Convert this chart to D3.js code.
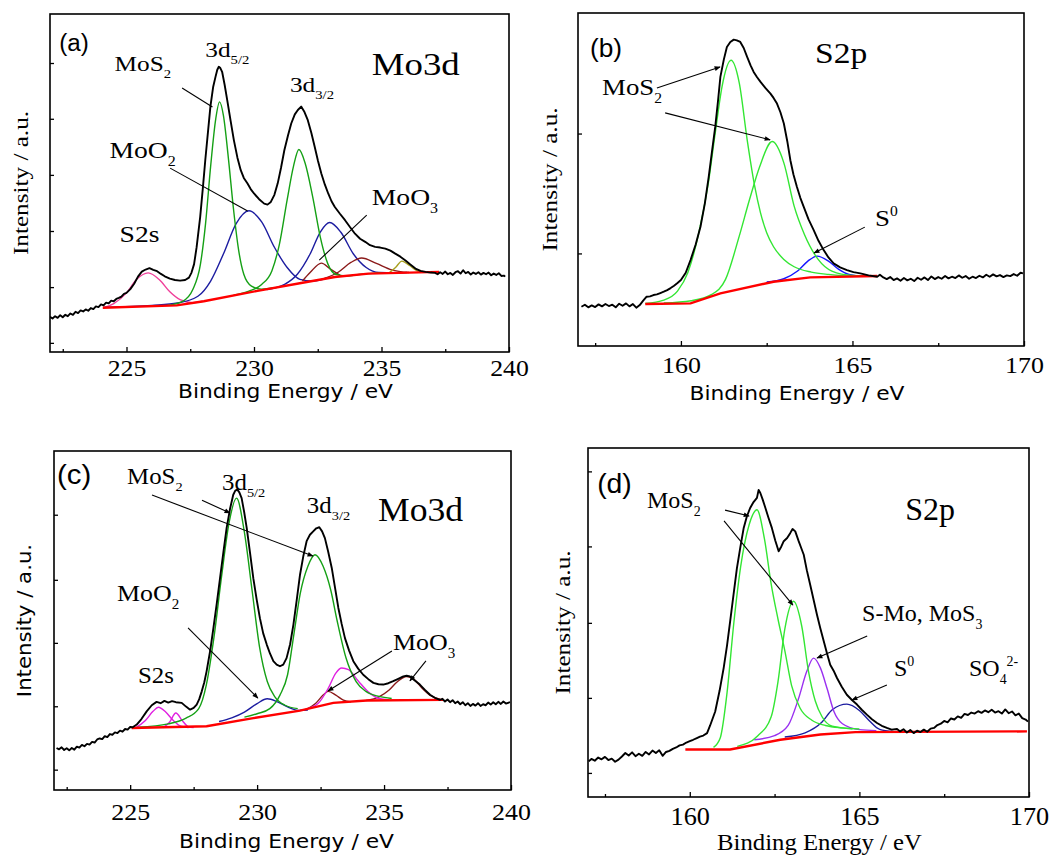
<!DOCTYPE html>
<html><head><meta charset="utf-8">
<script src="https://cdn.jsdelivr.net/npm/d3@7"></script>
<style>body{margin:0;background:#fff;}svg{display:block;}</style>
</head><body>
<svg id="c" width="1054" height="856"></svg>
<script>
// ---------------- DATA (binding energy eV, intensity a.u. 0-100) ----------------
const moTicks = [225, 230, 235, 240];
const moMinor = [222.5, 227.5, 232.5, 237.5];
const sTicks = [160, 165, 170];
const sMinor = [157.5, 162.5, 167.5];
const yTicksA = [2.7, 19.2, 35.8, 52.4, 69.0, 85.5];
const yTicksB = [27.8, 63.8];
const yTicksC = [6.0, 24.7, 43.4, 62.0, 81.2];
const yTicksD = [6.9, 28.4, 49.9, 71.8, 93.3];

// (a) Mo3d
const rawA = [[222.0,10.4],[222.1,9.9],[222.2,10.6],[222.3,10.1],[222.4,10.9],[222.5,10.3],[222.6,11.0],[222.7,10.6],[222.8,11.4],[222.9,11.0],[223.0,11.9],[223.1,11.5],[223.2,12.3],[223.3,12.0],[223.4,12.6],[223.5,12.2],[223.6,13.0],[223.7,12.7],[223.8,13.5],[223.9,13.3],[224.0,14.1],[224.1,13.8],[224.2,14.6],[224.3,14.4],[224.4,15.2],[224.5,15.0],[224.6,15.7],[224.7,16.0],[224.8,16.4],[224.9,17.2],[225.0,17.5],[225.15,18.6],[225.3,20.2],[225.45,22.3],[225.6,23.8],[225.75,24.4],[225.9,24.8],[226.05,24.3],[226.2,23.9],[226.35,23.1],[226.5,22.4],[226.7,21.7],[226.9,21.3],[227.1,21.1],[227.3,21.3],[227.45,22.0],[227.55,23.5],[227.65,26.0],[227.75,31.0],[227.89,40.0],[228.0,49],[228.09,56.8],[228.2,65.5],[228.29,72.6],[228.4,78.5],[228.49,81.4],[228.56,83.5],[228.62,84.4],[228.68,84.0],[228.75,82.9],[228.85,79.0],[228.95,74.5],[229.08,68.5],[229.21,62.7],[229.35,57.5],[229.48,53.8],[229.6,51.5],[229.74,49.9],[229.87,48.2],[230.0,46.9],[230.2,45.2],[230.4,43.9],[230.53,43.6],[230.66,44.4],[230.8,46.5],[230.93,49.9],[231.06,54.5],[231.19,59.7],[231.33,64.0],[231.46,67.6],[231.6,70.3],[231.72,71.6],[231.85,72.6],[231.98,71.0],[232.11,68.6],[232.25,64.8],[232.38,60.7],[232.51,56.5],[232.64,52.8],[232.78,49.5],[232.91,46.9],[233.04,44.6],[233.17,42.9],[233.37,40.9],[233.57,39.0],[233.77,36.9],[233.96,35.0],[234.16,33.5],[234.36,32.6],[234.55,31.6],[234.75,31.1],[234.95,30.9],[235.15,30.6],[235.35,30.0],[235.54,29.1],[235.74,28.2],[235.94,27.1],[236.13,25.9],[236.33,24.7],[236.53,24.0],[236.73,23.7],[236.93,23.5],[237.1,23.4],[237.2,23.0],[237.3,23.6],[237.4,23.1],[237.5,23.8],[237.6,23.0],[237.7,23.4],[237.8,22.8],[237.9,23.6],[238.0,23.9],[238.1,23.2],[238.2,24.2],[238.3,23.3],[238.4,23.7],[238.5,22.9],[238.6,23.5],[238.7,23.1],[238.8,23.6],[238.9,22.9],[239.0,23.4],[239.1,23.0],[239.2,23.5],[239.3,22.7],[239.4,23.2],[239.5,22.8],[239.6,23.3],[239.7,22.5],[239.8,22.6],[239.85,22.3]];
const baseA = [[224.07,13.1],[226.97,13.8],[228.03,15.0],[230.14,18.1],[231.85,20.4],[233.17,22.2],[234.49,23.2],[237.26,23.7]];
const s2sA = [[224.1,13.1],[224.5,14.3],[225.0,17.5],[225.4,21.5],[225.85,23.4],[226.3,21.3],[226.7,17.8],[227.1,15.5],[227.6,14.6],[228.0,15.0]];
const mos2d52A = [[226.6,13.8],[227.2,15.0],[227.6,18.5],[227.9,26],[228.1,38],[228.3,55],[228.5,69],[228.65,74],[228.8,70],[229.0,57],[229.2,42],[229.4,30],[229.6,23],[229.9,19.5],[230.3,18.6],[230.8,19.0]];
const mos2d32A = [[229.2,16.8],[229.8,18.0],[230.3,20.0],[230.7,24],[231.0,32],[231.3,45],[231.55,55],[231.76,59.9],[232.0,56],[232.3,46],[232.6,34],[232.9,26],[233.2,23],[233.6,22.5],[234.2,23],[235.0,23.5]];
const moo2d52A = [[224.1,13.2],[226.0,13.8],[227.0,14.5],[227.8,16.5],[228.3,21],[228.8,29],[229.3,38],[229.8,41.8],[230.3,38.5],[230.8,31],[231.3,25],[231.8,21.5],[232.3,21],[233.0,22.2]];
const moo2d32A = [[230.5,18.5],[231.2,20],[231.7,23],[232.2,29],[232.6,35.5],[232.97,38.3],[233.4,35.5],[233.9,29],[234.4,25],[234.9,23.5],[235.5,23.4],[236.0,23.5]];
const moo3aA = [[231.9,21.0],[232.2,23.5],[232.64,26.3],[233.0,24.5],[233.43,22.4]];
const moo3bA = [[232.76,21.8],[233.3,23.6],[233.8,26.5],[234.22,27.8],[234.8,26.2],[235.4,24.3],[236.08,23.5]];
const oliveA = [[235.3,23.4],[235.55,25.0],[235.8,26.9],[236.1,25.6],[236.4,24.0],[236.7,23.6]];

// (b) S2p
const rawB = [[157.1,11.8],[157.2,12.4],[157.3,11.6],[157.4,12.2],[157.5,11.7],[157.6,12.5],[157.7,11.9],[157.8,12.6],[157.9,12.0],[158.0,12.4],[158.1,11.6],[158.2,12.7],[158.3,12.1],[158.4,12.8],[158.5,11.9],[158.6,12.6],[158.7,11.5],[158.8,12.3],[158.9,13.6],[159.0,14.8],[159.1,14.9],[159.2,15.3],[159.3,15.5],[159.4,15.9],[159.5,16.3],[159.6,16.8],[159.7,17.4],[159.8,18.1],[159.9,18.9],[160.0,19.8],[160.14,22.0],[160.28,25.8],[160.43,30.5],[160.57,35.8],[160.7,43],[160.81,50.8],[160.9,58],[161.0,65.8],[161.08,73.5],[161.15,80.8],[161.25,86.0],[161.34,89.8],[161.44,91.3],[161.54,92.0],[161.63,91.8],[161.73,91.3],[161.83,89.5],[161.93,86.8],[162.03,84.3],[162.12,82.3],[162.22,80.7],[162.32,79.3],[162.46,77.5],[162.61,75.8],[162.7,74.5],[162.8,72.8],[162.9,70.2],[163.0,66.8],[163.1,61.5],[163.19,55.8],[163.28,51.5],[163.38,47.8],[163.48,44.5],[163.58,41.8],[163.72,38.0],[163.87,34.8],[164.01,31.6],[164.16,28.8],[164.3,26.6],[164.45,24.8],[164.64,23.6],[164.84,22.8],[165.03,22.2],[165.23,21.8],[165.47,21.2],[165.72,20.8],[165.8,21.4],[165.9,20.6],[166.0,20.1],[166.1,20.7],[166.2,19.8],[166.3,20.3],[166.4,19.6],[166.5,20.4],[166.6,19.7],[166.7,20.2],[166.8,19.5],[166.9,20.5],[167.0,19.9],[167.1,20.6],[167.2,19.8],[167.3,20.9],[167.4,20.1],[167.5,20.7],[167.6,20.2],[167.7,21.0],[167.8,20.3],[167.9,20.8],[168.0,20.4],[168.1,21.2],[168.2,20.5],[168.3,21.0],[168.4,20.2],[168.5,20.8],[168.6,20.4],[168.7,21.1],[168.8,20.6],[168.9,21.4],[169.0,20.8],[169.1,21.5],[169.2,20.9],[169.3,21.3],[169.4,20.7],[169.5,21.2],[169.6,21.0],[169.7,21.6],[169.8,21.1],[169.9,22.0],[169.97,21.8]];
const baseB = [[158.96,12.6],[160.28,12.8],[161.15,15.8],[162.7,19.3],[163.77,20.6],[165.72,21.0]];
const mos2aB = [[158.96,12.8],[159.5,13.8],[159.9,16.5],[160.2,22],[160.5,33],[160.8,49],[161.0,64],[161.2,78],[161.46,85.8],[161.7,79],[161.93,62],[162.15,48],[162.32,40],[162.5,34],[162.7,29.8],[163.0,26],[163.3,23.8],[163.8,22.2],[164.3,21.5],[165.0,21.0],[165.7,21.0]];
const mos2bB = [[159.5,12.9],[160.3,13.6],[160.9,15.5],[161.3,20],[161.7,33],[162.0,44],[162.3,54],[162.66,61.4],[163.0,55],[163.3,42],[163.6,33.5],[164.0,26],[164.4,22.5],[165.0,21.2],[165.7,21.0]];
const s0B = [[162.5,19.2],[163.0,20.2],[163.4,22.5],[163.7,25.5],[163.97,27.0],[164.3,25.5],[164.6,23],[164.9,21.5],[165.3,21.0],[165.7,21.0]];

// (c) Mo3d
const rawC = [[222.1,12.4],[222.2,12.0],[222.3,12.6],[222.4,11.8],[222.5,12.3],[222.6,11.7],[222.7,12.4],[222.8,11.9],[222.9,12.8],[223.0,12.5],[223.1,13.3],[223.2,12.9],[223.3,13.6],[223.4,13.4],[223.5,14.2],[223.6,14.0],[223.7,14.9],[223.8,15.2],[223.9,15.0],[224.0,15.9],[224.1,15.6],[224.2,16.5],[224.3,16.3],[224.4,17.0],[224.5,16.8],[224.6,17.5],[224.7,17.2],[224.8,18.0],[224.9,17.8],[225.0,18.6],[225.1,18.5],[225.26,19.3],[225.45,21.0],[225.65,23.2],[225.85,25.0],[226.04,26.0],[226.2,25.6],[226.35,26.3],[226.5,25.8],[226.65,26.2],[226.8,25.9],[227.03,25.7],[227.2,24.6],[227.36,23.7],[227.5,24.2],[227.62,25.2],[227.72,26.8],[227.82,29.1],[227.92,31.8],[228.01,35.0],[228.15,41.0],[228.28,47.8],[228.41,55.0],[228.54,62.5],[228.67,70.0],[228.8,77.3],[228.93,82.8],[229.06,87.1],[229.14,88.3],[229.22,88.6],[229.3,87.8],[229.39,86.1],[229.49,82.0],[229.59,77.3],[229.72,70.0],[229.85,62.5],[229.98,56.3],[230.11,50.7],[230.24,46.2],[230.38,42.9],[230.51,40.2],[230.64,38.0],[230.77,37.0],[230.9,36.5],[231.03,37.0],[231.16,38.9],[231.3,43.0],[231.43,48.8],[231.56,56.0],[231.69,63.5],[231.82,69.0],[231.95,73.4],[232.08,75.3],[232.21,76.3],[232.33,77.2],[232.45,77.5],[232.56,76.3],[232.67,74.3],[232.8,70.3],[232.94,65.5],[233.07,59.6],[233.2,53.7],[233.33,49.0],[233.46,44.8],[233.62,41.2],[233.79,38.0],[233.98,35.8],[234.18,34.0],[234.38,32.7],[234.58,31.6],[234.78,31.2],[234.97,31.1],[235.17,31.5],[235.36,32.1],[235.56,32.8],[235.76,33.5],[235.89,33.7],[236.02,33.5],[236.2,32.4],[236.41,31.1],[236.6,29.6],[236.81,28.1],[237.0,27.2],[237.2,26.6],[237.3,26.9],[237.4,26.1],[237.5,26.7],[237.6,25.9],[237.7,26.5],[237.8,25.6],[237.9,26.1],[238.0,25.3],[238.1,25.9],[238.2,25.0],[238.3,25.6],[238.4,24.8],[238.5,25.4],[238.6,24.9],[238.7,25.6],[238.8,24.8],[238.9,25.3],[239.0,25.0],[239.1,25.8],[239.2,25.2],[239.3,25.9],[239.4,25.3],[239.5,26.0],[239.6,25.4],[239.7,26.1],[239.8,25.5],[239.96,25.9]];
const baseC = [[225.06,18.3],[228.01,18.8],[229.85,21.2],[231.69,23.4],[233.0,25.7],[234.31,26.4],[237.33,26.6]];
const s2s1C = [[225.2,18.3],[225.6,20.5],[225.9,23.2],[226.11,24.4],[226.4,23.0],[226.7,20.5],[227.0,18.8],[227.3,18.4]];
const s2s2C = [[226.3,18.4],[226.55,20.0],[226.8,22.7],[227.05,20.5],[227.3,18.6],[227.5,18.4]];
const mos2d52C = [[225.3,18.5],[226.5,19.5],[227.2,21.2],[227.7,24],[228.0,31],[228.3,45],[228.6,63],[228.9,79],[229.19,86.1],[229.5,76],[229.8,59],[230.1,42],[230.4,32],[230.7,27.5],[231.1,25],[231.6,24]];
const mos2d32C = [[229.5,21.5],[230.0,22.5],[230.5,24],[230.9,28],[231.2,34],[231.45,46],[231.7,58],[232.0,66],[232.28,69.4],[232.6,66],[232.9,59],[233.15,50],[233.5,39],[233.9,32],[234.3,29],[234.8,27.6],[235.3,27.0]];
const moo2C = [[228.5,20.2],[229.0,21.3],[229.5,23.0],[230.0,25.5],[230.4,26.9],[230.8,26.0],[231.2,24.5],[231.6,23.5],[232.0,23.6]];
const moo3pinkC = [[231.9,23.8],[232.4,25.5],[232.8,30],[233.1,34.5],[233.33,36.0],[233.6,35.5],[234.0,32.0],[234.4,28.8],[234.8,27.0],[235.2,26.6]];
const moo3redC = [[231.9,23.6],[232.3,25.5],[232.6,28],[232.8,29.1],[233.1,28],[233.4,26.5],[233.7,26.0]];
const moo3bigC = [[234.3,26.4],[234.8,27.5],[235.2,29.5],[235.5,31.8],[235.89,33.5],[236.2,32.5],[236.5,30.0],[236.8,28.0],[237.2,26.8]];

// (d) S2p
const rawD = [[157.02,10.2],[157.1,10.9],[157.2,10.4],[157.3,11.3],[157.4,10.8],[157.5,11.5],[157.6,10.6],[157.7,11.0],[157.8,10.1],[157.9,10.7],[158.0,11.6],[158.1,12.6],[158.2,11.9],[158.3,12.8],[158.4,11.7],[158.5,12.4],[158.6,11.8],[158.7,12.9],[158.8,12.2],[158.9,13.3],[159.0,12.6],[159.1,13.4],[159.2,11.8],[159.3,12.9],[159.4,13.2],[159.5,13.8],[159.6,14.2],[159.7,14.8],[159.8,15.0],[159.9,15.6],[160.0,16.0],[160.1,16.4],[160.21,16.9],[160.3,17.3],[160.4,17.6],[160.51,18.3],[160.6,20.5],[160.75,24.5],[160.88,30.5],[161.0,37.0],[161.1,43.5],[161.19,50.3],[161.29,58.0],[161.39,65.6],[161.49,71.5],[161.59,77.1],[161.68,80.3],[161.78,82.8],[161.88,84.5],[161.98,85.7],[162.03,88.0],[162.08,87.1],[162.15,85.2],[162.23,82.8],[162.32,80.0],[162.42,77.1],[162.52,73.5],[162.62,70.4],[162.7,71.8],[162.77,73.3],[162.87,74.2],[162.96,75.6],[163.03,76.8],[163.11,76.1],[163.21,73.3],[163.28,71.5],[163.36,69.4],[163.45,65.0],[163.55,60.8],[163.65,56.5],[163.75,52.2],[163.85,48.3],[163.95,44.6],[164.05,41.0],[164.14,37.9],[164.24,36.2],[164.34,34.1],[164.48,31.6],[164.63,29.3],[164.78,27.8],[164.93,26.5],[165.07,25.0],[165.22,23.6],[165.37,22.3],[165.52,21.2],[165.66,20.4],[165.81,19.8],[165.95,19.3],[166.11,19.5],[166.2,18.8],[166.3,19.4],[166.4,18.5],[166.5,19.2],[166.6,18.3],[166.7,19.0],[166.8,18.6],[166.9,19.3],[167.0,18.7],[167.1,19.6],[167.2,19.8],[167.3,20.6],[167.4,21.0],[167.5,21.8],[167.6,21.4],[167.7,22.5],[167.8,22.2],[167.9,23.1],[168.0,22.7],[168.1,23.8],[168.2,23.5],[168.3,24.2],[168.4,23.9],[168.5,24.6],[168.6,24.1],[168.7,24.8],[168.8,24.3],[168.9,25.0],[169.0,24.2],[169.1,24.6],[169.2,23.9],[169.3,25.1],[169.4,24.0],[169.5,24.5],[169.6,23.4],[169.7,23.9],[169.8,22.6],[169.9,22.2],[169.97,21.6]];
const baseD = [[159.87,13.6],[161.19,13.6],[162.67,16.4],[163.85,17.9],[164.88,18.6],[169.94,18.8]];
const mos2aD = [[160.7,14.2],[160.9,17],[161.1,30],[161.3,50],[161.5,66],[161.75,78],[161.98,82.3],[162.2,74],[162.4,61],[162.6,51],[162.8,42],[163.0,32],[163.25,25.5],[163.6,22],[164.0,20.5],[164.5,19.8],[165.0,19.5]];
const mos2bD = [[161.4,14.5],[162.0,17.5],[162.4,23],[162.6,33],[162.8,48],[163.06,56.1],[163.3,49],[163.5,36],[163.7,27.5],[163.9,23],[164.2,20.3],[164.8,19.5]];
const smoD = [[161.9,16.4],[162.5,17.6],[162.9,20.5],[163.2,28],[163.45,36],[163.65,39.8],[163.85,37],[164.05,31],[164.25,24.5],[164.5,21],[165.0,19.3],[165.5,19.0]];
const s0D = [[162.8,17.2],[163.4,18.4],[163.9,21.5],[164.2,25],[164.63,26.6],[165.0,24.8],[165.3,21.8],[165.6,19.4],[166.0,18.8]];

// annotation texts (position in eV / intensity)
const notesA = [
  {at:[224.53,83.1], parts:[["MoS"],["2","sub"]]},
  {at:[228.09,87.3], parts:[["3d"],["5/2","sub"]]},
  {at:[231.41,76.9], parts:[["3d"],["3/2","sub"]]},
  {at:[224.33,57.4], parts:[["MoO"],["2","sub"]], big:true},
  {at:[234.62,43.5], parts:[["MoO"],["3","sub"]], big:true},
  {at:[224.73,32.5], parts:[["S2s"]], big:true}
];
const leadersA = [[[227.18,78.1],[228.37,72.5]],[[226.71,54.4],[229.75,41.7]],[[234.42,40.5],[232.56,27.2]]];
const notesB = [
  {at:[157.70,75.4], parts:[["MoS"],["2","sub"]]},
  {at:[165.66,36.0], parts:[["S"],["0","sup"]]}
];
const leadersB = [[[159.30,77.5],[161.14,83.8]],[[159.54,70.0],[162.60,61.9]],[[165.36,35.7],[163.88,27.9]]];
const notesC = [
  {at:[224.88,90.3], parts:[["MoS"],["2","sub"]]},
  {at:[228.62,88.5], parts:[["3d"],["5/2","sub"]]},
  {at:[231.96,81.7], parts:[["3d"],["3/2","sub"]]},
  {at:[224.48,55.8], parts:[["MoO"],["2","sub"]], big:true},
  {at:[235.35,41.3], parts:[["MoO"],["3","sub"]], big:true},
  {at:[225.31,31.6], parts:[["S2s"]]}
];
const leadersC = [[[225.86,87.0],[232.20,69.0]],[[227.83,85.5],[228.93,81.7]],[[227.28,47.8],[230.03,27.1]],[[235.31,41.0],[232.79,29.2]],[[236.65,38.1],[236.02,32.2]]];
const notesD = [
  {at:[158.74,82.8], parts:[["MoS"],["2","sub"]]},
  {at:[165.08,50.4], parts:[["S-Mo, MoS"],["3","sub"]], big:true},
  {at:[166.02,34.7], parts:[["S"],["0","sup"]], big:true},
  {at:[168.23,34.7], parts:[["SO"],["4","sub"],["2-","sup"]], big:true}
];
const leadersD = [[[161.04,82.2],[161.75,80.5]],[[161.01,79.1],[163.04,55.0]],[[165.23,46.1],[163.75,39.8]],[[165.81,32.1],[164.78,27.8]]];

// ---------------- LAYOUT / STYLE ----------------
const SERIF = "'Liberation Serif','Times New Roman',serif";
const SANS = "'DejaVu Sans',Verdana,sans-serif";
const ARIAL = "'Liberation Sans',Arial,sans-serif";
const GREEN_D = "#15a015", GREEN_L = "#33e633", NAVY = "#1c1ca0", BLUE = "#1515ff",
      PINK = "#f0409a", MAGENTA = "#e020e0", BROWN = "#8b1a1a", OLIVE = "#a8a020", PURPLE = "#9a30f0";

const panels = [
  {box:[50,14,509,352], dom:[222,240], ticks:moTicks, minor:moMinor, yt:yTicksA, raw:rawA, base:baseA,
   comps:[[s2sA,PINK],[moo2d52A,NAVY],[moo2d32A,NAVY],[moo3aA,BROWN],[moo3bA,BROWN],[oliveA,OLIVE],[mos2d52A,GREEN_D],[mos2d32A,GREEN_D]],
   notes:notesA, leaders:leadersA, arrows:false, sx:1.15, noteSize:22, bigSize:24,
   tag:{t:"(a)",at:[222.36,89.1],size:23}, title:{t:"Mo3d",at:[234.62,82.0],size:32},
   tickSize:23, tickBase:24, tickSx:1.12, xlab:{dx:6,dy:46,size:20,font:SANS,sx:1.09}, ylab:{dx:-22,size:21,font:SERIF,sx:1.2}},
  {box:[578,13,1024,346], dom:[157,170], ticks:sTicks, minor:sMinor, yt:yTicksB, raw:rawB, base:baseB,
   comps:[[s0B,BLUE],[mos2bB,GREEN_L],[mos2aB,GREEN_L]],
   notes:notesB, leaders:leadersB, arrows:true, sx:1.12, noteSize:24, bigSize:24,
   tag:{t:"(b)",at:[157.35,86.8],size:25}, title:{t:"S2p",at:[163.91,85.0],size:30},
   tickSize:24, tickBase:27, tickSx:1.08, xlab:{dx:-4,dy:54,size:20,font:SANS,sx:1.09}, ylab:{dx:-21,size:21,font:SERIF,sx:1.2}},
  {box:[54,451,511,790], dom:[222,240], ticks:moTicks, minor:moMinor, yt:yTicksC, raw:rawC, base:baseC,
   comps:[[s2s1C,MAGENTA],[s2s2C,MAGENTA],[moo2C,NAVY],[moo3redC,BROWN],[moo3bigC,BROWN],[moo3pinkC,MAGENTA],[mos2d52C,GREEN_D],[mos2d32C,GREEN_D]],
   notes:notesC, leaders:leadersC, arrows:true, sx:1.08, noteSize:23, bigSize:24,
   tag:{t:"(c)",at:[222.12,90.3],size:28}, title:{t:"Mo3d",at:[234.76,79.4],size:33},
   tickSize:24, tickBase:30, tickSx:1.08, xlab:{dx:4,dy:58,size:20,font:SANS,sx:1.09}, ylab:{dx:-23,size:19,font:SANS,sx:1.12}},
  {box:[588,448,1029,797], dom:[157,170], ticks:sTicks, minor:sMinor, yt:yTicksD, raw:rawD, base:baseD,
   comps:[[s0D,NAVY],[smoD,PURPLE],[mos2bD,GREEN_L],[mos2aD,GREEN_L]],
   notes:notesD, leaders:leadersD, arrows:true, sx:1.0, noteSize:24, bigSize:24,
   tag:{t:"(d)",at:[157.27,87.1],size:27}, title:{t:"S2p",at:[166.35,79.4],size:32},
   tickSize:25, tickBase:28, tickSx:1.05, xlab:{dx:11,dy:53,size:24,font:SERIF,sx:1.03}, ylab:{dx:-18,size:21,font:SERIF,sx:1.2}}
];

// ---------------- DRAW ----------------
const svg = d3.select("#c");
const defs = svg.append("defs");
defs.append("marker").attr("id","arr").attr("viewBox","0 0 10 10").attr("refX",9).attr("refY",5)
  .attr("markerWidth",7).attr("markerHeight",6).attr("orient","auto").attr("markerUnits","userSpaceOnUse")
  .append("path").attr("d","M0,1 L10,5 L0,9 Z").attr("fill","#000");

function rich(g, px, py, parts, o) {
  const t = g.append("text")
    .attr("transform", `translate(${px},${py})${o.rot ? " rotate(" + o.rot + ")" : ""} scale(${o.sx || 1},1)`)
    .style("font-family", o.family).style("font-size", o.size + "px")
    .attr("text-anchor", o.anchor || "start").attr("fill", "#000");
  let shift = 0;
  parts.forEach(pt => {
    const kind = pt[1];
    const target = kind === "sub" ? 0.32 * o.size : kind === "sup" ? -0.42 * o.size : 0;
    t.append("tspan").attr("dy", target - shift)
      .style("font-size", (kind ? o.size * 0.58 : o.size) + "px").text(pt[0]);
    shift = target;
  });
  return t;
}

panels.forEach((p, i) => {
  const [x0, y0, x1, y1] = p.box;
  const x = d3.scaleLinear().domain(p.dom).range([x0, x1]);
  const y = d3.scaleLinear().domain([0, 100]).range([y1, y0]);
  const g = svg.append("g");
  const cid = "clip" + i;
  defs.append("clipPath").attr("id", cid).append("rect").attr("x", x0).attr("y", y0).attr("width", x1 - x0).attr("height", y1 - y0);
  const plot = g.append("g").attr("clip-path", `url(#${cid})`);
  const smooth = d3.line().x(d => x(d[0])).y(d => y(d[1])).curve(d3.curveMonotoneX);
  const straight = d3.line().x(d => x(d[0])).y(d => y(d[1]));

  p.comps.forEach(([data, col]) => {
    plot.append("path").attr("d", smooth(data)).attr("fill", "none").attr("stroke", col).attr("stroke-width", 1.4);
  });
  plot.append("path").attr("d", straight(p.base)).attr("fill", "none").attr("stroke", "#ff0000").attr("stroke-width", 2.4);
  plot.append("path").attr("d", straight(p.raw)).attr("fill", "none").attr("stroke", "#000").attr("stroke-width", 1.9).attr("stroke-linejoin", "round");

  // leaders
  p.leaders.forEach(l => {
    const ln = g.append("line").attr("x1", x(l[0][0])).attr("y1", y(l[0][1])).attr("x2", x(l[1][0])).attr("y2", y(l[1][1]))
      .attr("stroke", "#000").attr("stroke-width", 1.1);
    if (p.arrows) ln.attr("marker-end", "url(#arr)");
  });

  // axes
  const ax = d3.axisBottom(x).tickValues(p.ticks).tickSizeInner(-5).tickSizeOuter(0).tickPadding(0);
  const axG = g.append("g").attr("transform", `translate(0,${y1})`).call(ax);
  axG.select(".domain").remove();
  axG.selectAll("line").attr("stroke", "#000").attr("stroke-width", 1.3);
  axG.selectAll("text").attr("dy", null).attr("y", null)
    .attr("transform", `translate(0,${p.tickBase}) scale(${p.tickSx},1)`)
    .style("font-family", SERIF).style("font-size", p.tickSize + "px").attr("fill", "#000");
  const mn = d3.axisBottom(x).tickValues(p.minor).tickSizeInner(-3).tickSizeOuter(0).tickFormat("");
  const mnG = g.append("g").attr("transform", `translate(0,${y1})`).call(mn);
  mnG.select(".domain").remove();
  mnG.selectAll("line").attr("stroke", "#000").attr("stroke-width", 1.3);
  const ay = d3.axisLeft(y).tickValues(p.yt).tickSizeInner(-4).tickSizeOuter(0).tickFormat("");
  const ayG = g.append("g").attr("transform", `translate(${x0},0)`).call(ay);
  ayG.select(".domain").remove();
  ayG.selectAll("line").attr("stroke", "#000").attr("stroke-width", 1.3);

  g.append("rect").attr("x", x0).attr("y", y0).attr("width", x1 - x0).attr("height", y1 - y0)
    .attr("fill", "none").attr("stroke", "#000").attr("stroke-width", 1.6);

  // axis labels
  rich(g, (x0 + x1) / 2 + p.xlab.dx, y1 + p.xlab.dy, [["Binding Energy / eV"]],
    {family: p.xlab.font, size: p.xlab.size, anchor: "middle", sx: p.xlab.sx});
  rich(g, x0 + p.ylab.dx, (y0 + y1) / 2, [["Intensity / a.u."]],
    {family: p.ylab.font, size: p.ylab.size, anchor: "middle", rot: -90, sx: p.ylab.sx});

  // tag and title
  rich(g, x(p.tag.at[0]), y(p.tag.at[1]), [[p.tag.t]], {family: ARIAL, size: p.tag.size, sx: 1.05});
  rich(g, x(p.title.at[0]), y(p.title.at[1]), [[p.title.t]], {family: SERIF, size: p.title.size, sx: p.sx});
  p.notes.forEach(n => {
    rich(g, x(n.at[0]), y(n.at[1]), n.parts, {family: SERIF, size: n.big ? p.bigSize : p.noteSize, sx: p.sx});
  });
});
</script>
</body></html>
